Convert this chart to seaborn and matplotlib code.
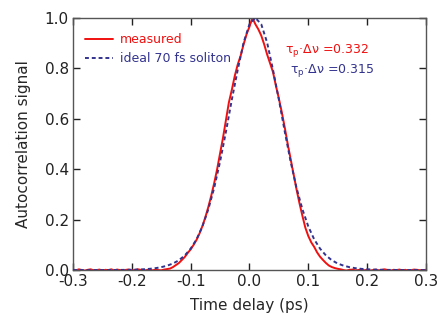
import numpy as np
import pandas as pd
import matplotlib
matplotlib.use("Agg")
import matplotlib.pyplot as plt
import seaborn as sns

# measured autocorrelation trace (0.005 ps steps, -0.30 ... 0.30 ps)
meas_t = [round(-0.30 + 0.005 * i, 3) for i in range(121)]
meas_y = [
    0.002, -0.001, 0.003, 0.000, -0.002, 0.001, 0.003, -0.001, 0.000, 0.002,
    -0.002, 0.001, 0.000, 0.003, -0.001, 0.002, 0.000, -0.002, 0.001, 0.002,
    -0.001, 0.000, 0.003, 0.001, -0.002, 0.000, 0.002, -0.001, 0.001, 0.000,
    -0.001, 0.002, 0.004, 0.006, 0.012, 0.020, 0.028, 0.040, 0.052, 0.068,
    0.082, 0.100, 0.120, 0.145, 0.175, 0.210, 0.250, 0.295, 0.345, 0.400,
    0.463, 0.525, 0.595, 0.665, 0.715, 0.770, 0.815, 0.850, 0.895, 0.935,
    0.965, 1.000, 0.975, 0.955, 0.930, 0.895, 0.855, 0.820, 0.785, 0.730,
    0.680, 0.625, 0.565, 0.500, 0.440, 0.380, 0.320, 0.265, 0.215, 0.168,
    0.135, 0.110, 0.092, 0.070, 0.053, 0.040, 0.028, 0.018, 0.012, 0.008,
    0.005, 0.003, 0.000, -0.002, 0.001, 0.002, -0.001, 0.000, 0.003, -0.001,
    0.001, -0.002, 0.000, 0.002, -0.001, 0.001, 0.003, 0.000, -0.002, 0.001,
    0.000, 0.002, -0.001, 0.001, -0.002, 0.000, 0.002, 0.001, -0.001, 0.000,
    0.001,
]

# ideal 70 fs soliton autocorrelation (0.01 ps steps)
ideal_t = [round(-0.30 + 0.01 * i, 2) for i in range(61)]
ideal_y = [
    0.0000, 0.0000, 0.0000, 0.0001, 0.0001, 0.0001, 0.0002, 0.0004, 0.0006, 0.0009,
    0.0013, 0.0021, 0.0032, 0.0049, 0.0075, 0.0115, 0.0175, 0.026, 0.039, 0.058,
    0.085, 0.122, 0.173, 0.241, 0.326, 0.430, 0.549, 0.676, 0.794, 0.902,
    0.975, 1.000, 0.975, 0.902, 0.794, 0.676, 0.549, 0.430, 0.326, 0.241,
    0.173, 0.122, 0.085, 0.058, 0.039, 0.026, 0.0175, 0.0115, 0.0075, 0.0049,
    0.0032, 0.0021, 0.0013, 0.0009, 0.0006, 0.0004, 0.0002, 0.0001, 0.0001, 0.0001,
    0.0000,
]

labels = ["measured", "ideal 70 fs soliton"]
tbp_values = ["0.332", "0.315"]
red = "#f01010"
blue = "#33338f"

sns.set_style("ticks")
plt.rcParams["font.family"] = ["DejaVu Sans"]
plt.rcParams["axes.unicode_minus"] = False

fig = plt.figure(figsize=(4.4, 3.25), dpi=100)
ax = fig.add_axes([0.166, 0.169, 0.802, 0.776])

sns.lineplot(x=meas_t, y=meas_y, ax=ax, color=red, lw=1.4,
             label=labels[0], zorder=2)
sns.lineplot(x=ideal_t, y=ideal_y, ax=ax, color=blue, lw=1.4,
             linestyle=(0, (2, 1.5)), label=labels[1], zorder=3)

ax.set_xlim(-0.3, 0.3)
ax.set_ylim(0, 1.0)
ax.set_xticks([-0.3, -0.2, -0.1, 0.0, 0.1, 0.2, 0.3])
ax.set_yticks([0.0, 0.2, 0.4, 0.6, 0.8, 1.0])
ax.xaxis.set_major_formatter(matplotlib.ticker.FormatStrFormatter("%.1f"))
ax.yaxis.set_major_formatter(matplotlib.ticker.FormatStrFormatter("%.1f"))
ax.tick_params(direction="in", top=True, right=True, length=5, width=1,
               labelsize=11, colors="#222222", pad=3)
for s in ax.spines.values():
    s.set_color("#555555")
    s.set_linewidth(1)

ax.set_xlabel("Time delay (ps)", fontsize=11, labelpad=6)
ax.set_ylabel("Autocorrelation signal", fontsize=11, labelpad=10)

leg = ax.legend(loc="upper left", frameon=False, fontsize=9, handlelength=2.2,
                handletextpad=0.6, borderaxespad=0.3, labelspacing=0.5,
                bbox_to_anchor=(0.01, 0.975))
for txt, c in zip(leg.get_texts(), [red, blue]):
    txt.set_color(c)

ax.text(0.60, 0.87, r"τ$_\mathrm{p}$·Δν =" + tbp_values[0],
        transform=ax.transAxes, color=red, fontsize=9, va="center")
ax.text(0.615, 0.79, r"τ$_\mathrm{p}$·Δν =" + tbp_values[1],
        transform=ax.transAxes, color=blue, fontsize=9, va="center")

fig.savefig("out.png", dpi=100)
